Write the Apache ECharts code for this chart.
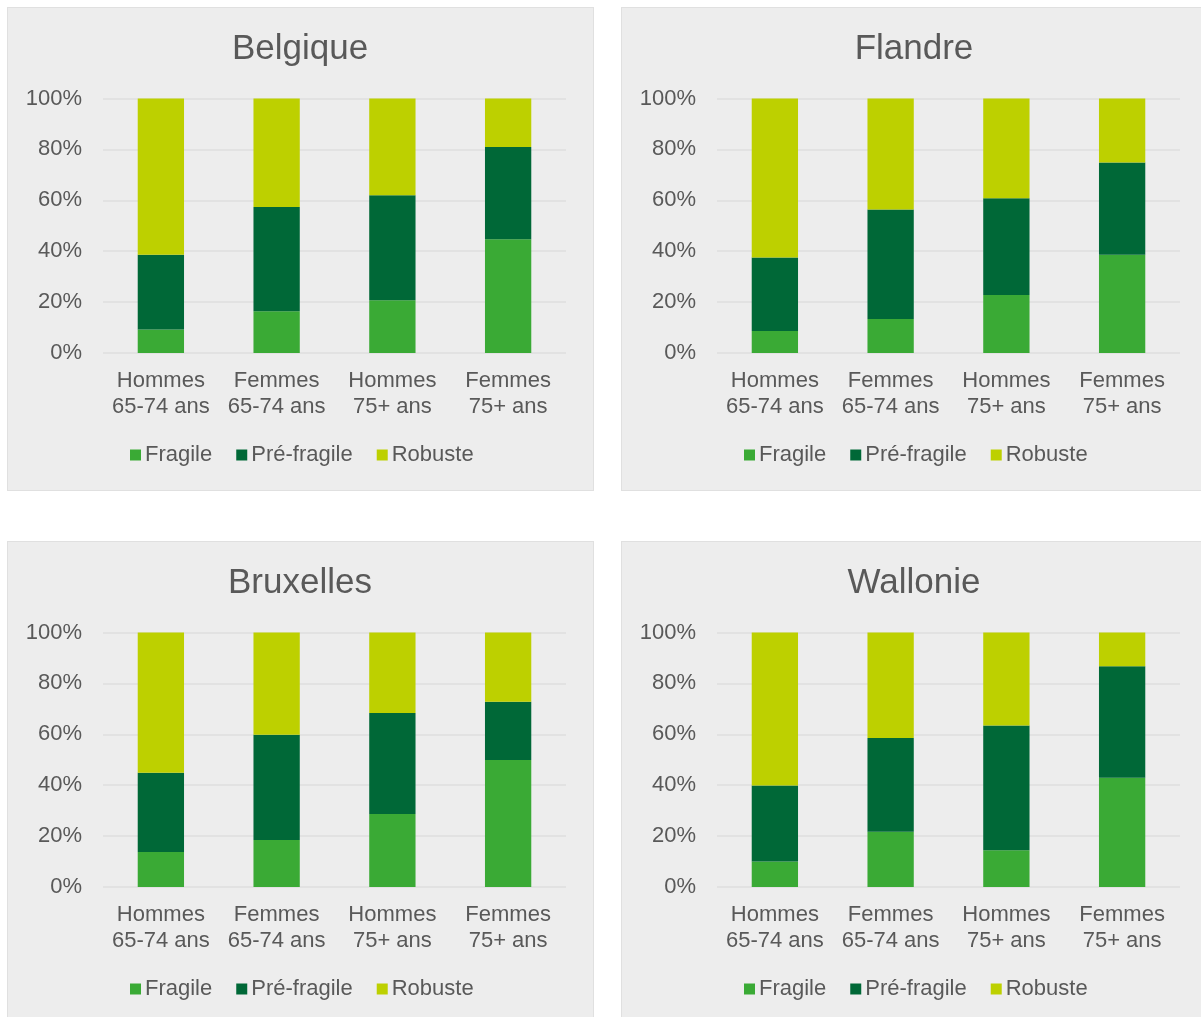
<!DOCTYPE html>
<html>
<head>
<meta charset="utf-8">
<script src="https://cdn.jsdelivr.net/npm/echarts@6/dist/echarts.min.js"></script>
<style>
  html, body { margin: 0; padding: 0; background: #ffffff; width: 1201px; height: 1017px; overflow: hidden; }
  .panel { position: absolute; background: #ededed; border: 1px solid #e0e0e0; box-sizing: border-box; }
</style>
</head>
<body>
<div id="p1" class="panel" style="left:7px;top:7px;width:587px;height:484px;"></div>
<div id="p2" class="panel" style="left:621px;top:7px;width:590px;height:484px;"></div>
<div id="p3" class="panel" style="left:7px;top:541px;width:587px;height:484px;"></div>
<div id="p4" class="panel" style="left:621px;top:541px;width:590px;height:484px;"></div>
<script>
const categories = ['Hommes\n65-74 ans', 'Femmes\n65-74 ans', 'Hommes\n75+ ans', 'Femmes\n75+ ans'];
const seriesNames = ['Fragile', 'Pré-fragile', 'Robuste'];
const yTicks = [0, 20, 40, 60, 80, 100];

const belgiqueFragile = [9.2, 16.4, 20.7, 44.7];
const belgiquePreFragile = [29.4, 41.0, 41.3, 36.2];
const belgiqueRobuste = [61.4, 42.6, 38.0, 19.1];

const flandreFragile = [8.6, 13.4, 22.8, 38.6];
const flandrePreFragile = [28.9, 43.0, 38.0, 36.3];
const flandreRobuste = [62.5, 43.6, 39.2, 25.1];

const bruxellesFragile = [13.8, 18.5, 28.7, 49.9];
const bruxellesPreFragile = [31.1, 41.3, 39.7, 22.9];
const bruxellesRobuste = [55.1, 40.2, 31.6, 27.2];

const wallonieFragile = [10.0, 21.7, 14.4, 42.9];
const walloniePreFragile = [29.9, 36.8, 49.1, 43.8];
const wallonieRobuste = [60.1, 41.5, 36.5, 13.3];

const colors = ['#3aaa35', '#006837', '#bdd000'];
const textColor = '#595959';
const font = 'Arial, "Liberation Sans", sans-serif';

function makeChart(id, title, fragile, pre, rob) {
  const chart = echarts.init(document.getElementById(id), null, { renderer: 'canvas' });
  const data = [fragile, pre, rob];
  chart.setOption({
    animation: false,
    backgroundColor: 'transparent',
    color: colors,
    title: {
      text: title,
      left: 287, top: 19, textAlign: 'center',
      textStyle: { fontFamily: font, fontSize: 35, fontWeight: 'normal', color: textColor }
    },
    legend: {
      data: seriesNames,
      left: 117, top: 431,
      itemWidth: 11, itemHeight: 11, itemGap: 24,
      icon: 'rect',
      textStyle: { fontFamily: font, fontSize: 22, color: textColor, padding: [0, 0, 0, -1] }
    },
    grid: { left: 95, top: 90.5, width: 463, height: 254.5, containLabel: false },
    xAxis: {
      type: 'category',
      data: categories,
      axisLine: { show: false },
      axisTick: { show: false },
      axisLabel: { fontFamily: font, fontSize: 22, color: textColor, lineHeight: 26, margin: 15, interval: 0 }
    },
    yAxis: {
      type: 'value',
      min: 0, max: 100, interval: 20,
      axisLine: { show: false },
      axisTick: { show: false },
      splitLine: { lineStyle: { color: '#e2e2e2', width: 2 } },
      axisLabel: { fontFamily: font, fontSize: 22, color: textColor, margin: 21, formatter: v => v + '%' }
    },
    series: seriesNames.map((n, i) => ({
      name: n,
      type: 'bar',
      stack: 'total',
      barWidth: '40%',
      data: data[i]
    }))
  });
}

makeChart('p1', 'Belgique', belgiqueFragile, belgiquePreFragile, belgiqueRobuste);
makeChart('p2', 'Flandre', flandreFragile, flandrePreFragile, flandreRobuste);
makeChart('p3', 'Bruxelles', bruxellesFragile, bruxellesPreFragile, bruxellesRobuste);
makeChart('p4', 'Wallonie', wallonieFragile, walloniePreFragile, wallonieRobuste);
</script>
</body>
</html>
